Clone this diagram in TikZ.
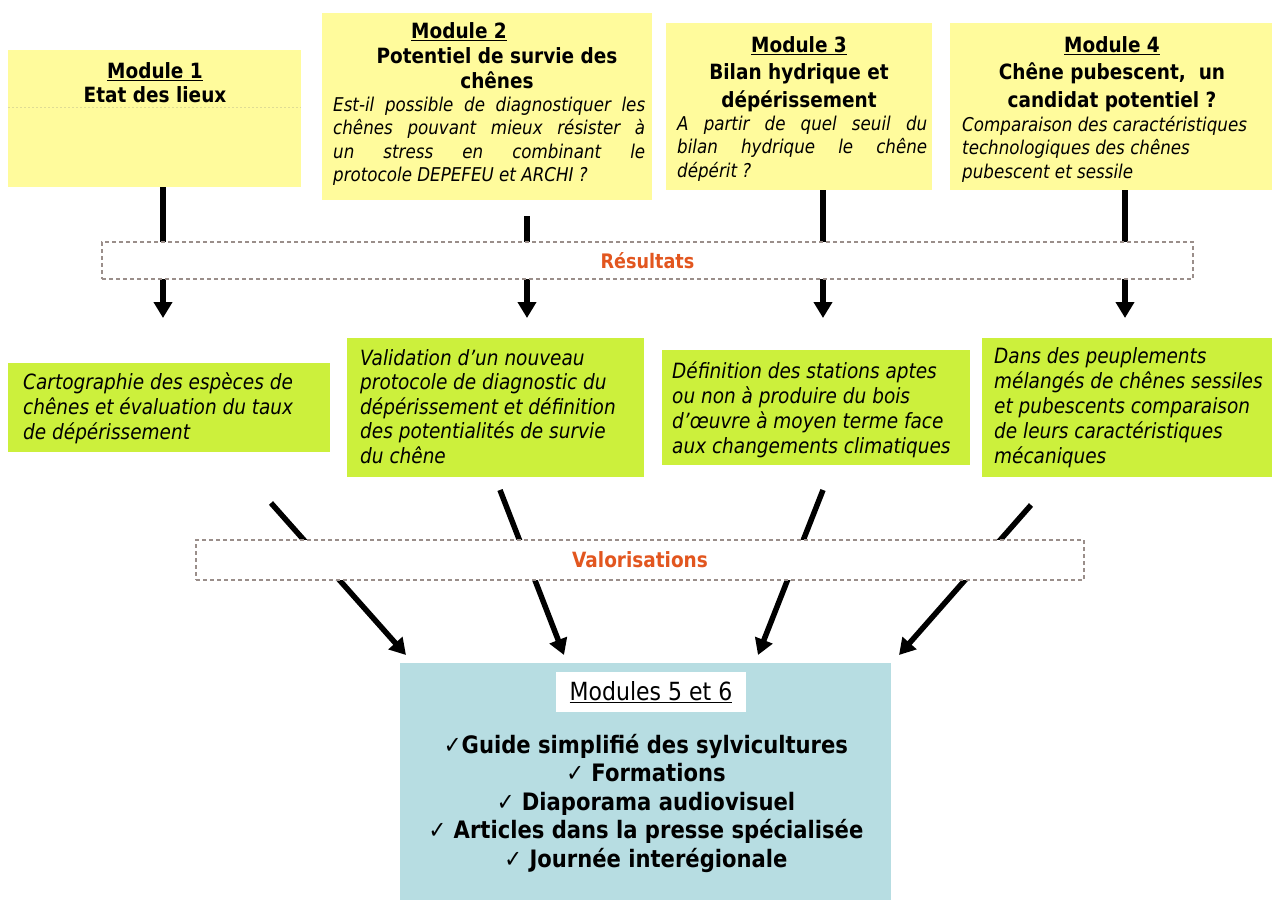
\documentclass[tikz,border=0pt]{standalone}
\usepackage{fontspec}
\setmainfont{DejaVu Sans}[FakeStretch=0.88]
\usetikzlibrary{arrows.meta,calc}
\definecolor{ycol}{HTML}{FFFB9C}
\definecolor{gcol}{HTML}{CCF03C}
\definecolor{bcol}{HTML}{B7DDE2}
\definecolor{ocol}{HTML}{E2561F}
\definecolor{dashcol}{HTML}{9A8E8A}
\begin{document}
\begin{tikzpicture}[x=1pt,y=-1pt,
  modbox/.style={fill=ycol, inner sep=0pt, outer sep=0pt, anchor=north west},
  resbox/.style={fill=gcol, inner sep=0pt, outer sep=0pt, anchor=north west},
  band/.style={draw=dashcol, fill=white, dash pattern=on 4pt off 3pt, line width=1.1pt, inner sep=0pt, outer sep=0pt, anchor=north west},
  ttl/.style={font=\fontsize{21}{24}\selectfont\bfseries, align=center, inner sep=0pt, anchor=north},
  ttlb/.style={font=\fontsize{21}{27.5}\selectfont\bfseries, align=center, inner sep=0pt, anchor=north},
  qtxt/.style={font=\fontsize{19}{23.5}\selectfont\itshape, align=left, inner sep=0pt, anchor=north west},
  rtxt/.style={font=\fontsize{21}{25}\selectfont\itshape, align=left, inner sep=0pt, anchor=north west},
  bandlbl/.style={font=\fontsize{20}{24}\selectfont\bfseries, text=ocol, inner sep=0pt},
  arr/.style={line width=5.5pt, -{Triangle[width=18pt,length=16pt]}},
  listtxt/.style={font=\fontsize{24}{28.5}\selectfont\bfseries, align=center, inner sep=0pt, anchor=north}
]
\fill[white] (0,0) rectangle (1272,900);
\useasboundingbox (0,0) rectangle (1272,900);

% module boxes
\node[modbox, minimum width=293pt, minimum height=137pt] (m1) at (8,50) {};
\node[modbox, minimum width=330pt, minimum height=187pt] (m2) at (322,13) {};
\node[modbox, minimum width=266pt, minimum height=167pt] (m3) at (666,23) {};
\node[modbox, minimum width=322pt, minimum height=167pt] (m4) at (950,23) {};
\draw[ycol!75!gray, dash pattern=on 2pt off 2pt, line width=0.6pt] (m1.west |- 0,107) -- (m1.east |- 0,107);

% module texts
\node[ttl] (t1) at (155,62) {\underline{Module 1}\\Etat des lieux};
\node[ttl, font=\fontsize{21}{25}\selectfont\bfseries] (t2) at (497,22) {\underline{Module 2}\hspace*{76pt}\\Potentiel de survie des\\chênes};
\node[qtxt] (q2) at (333,96.6) {\makebox[312pt][s]{Est-il possible de diagnostiquer les}\\
  \makebox[312pt][s]{chênes pouvant mieux résister à}\\
  \makebox[312pt][s]{un stress en combinant le}\\
  protocole DEPEFEU et ARCHI ?};
\node[ttlb] (t3) at (799,36) {\underline{Module 3}\\Bilan hydrique et\\dépérissement};
\node[qtxt] (q3) at (677,115.6) {\makebox[250pt][s]{A partir de quel seuil du}\\
  \makebox[250pt][s]{bilan hydrique le chêne}\\
  dépérit ?};
\node[ttlb] (t4) at (1112,36) {\underline{Module 4}\\Chêne pubescent,\ \ un\\candidat potentiel ?};
\node[qtxt] (q4) at (962,115.6) {Comparaison des caractéristiques\\technologiques des chênes\\pubescent et sessile};

% result boxes
\node[resbox, minimum width=322pt, minimum height=89pt] (g1) at (8,363) {};
\node[resbox, minimum width=297pt, minimum height=139pt] (g2) at (347,338) {};
\node[resbox, minimum width=308pt, minimum height=115pt] (g3) at (662,350) {};
\node[resbox, minimum width=290pt, minimum height=139pt] (g4) at (982,338) {};
\node[rtxt] (x1) at (23,372) {Cartographie des espèces de\\chênes et évaluation du taux\\de dépérissement};
\node[rtxt, font=\fontsize{21}{24.5}\selectfont\itshape] (x2) at (360,349) {Validation d’un nouveau\\protocole de diagnostic du\\dépérissement et définition\\des potentialités de survie\\du chêne};
\node[rtxt] (x3) at (672,361) {Définition des stations aptes\\ou non à produire du bois\\d’œuvre à moyen terme face\\aux changements climatiques};
\node[rtxt] (x4) at (994,347) {Dans des peuplements\\mélangés de chênes sessiles\\et pubescents comparaison\\de leurs caractéristiques\\mécaniques};

% final box
\node[fill=bcol, inner sep=0pt, outer sep=0pt, anchor=north west, minimum width=491pt, minimum height=237pt] (b) at (400,663) {};
\node[fill=white, inner sep=0pt, anchor=north west, minimum width=190pt, minimum height=40pt] (bt) at (556,672) {};
\node[font=\fontsize{25}{28}\selectfont, inner sep=0pt, anchor=base] (btl) at (651,700) {\underline{Modules 5 et 6}};
\node[listtxt] (bl) at (646,734) {{\mdseries ✓}Guide simplifié des sylvicultures\\
  {\mdseries ✓} Formations\\
  {\mdseries ✓} Diaporama audiovisuel\\
  {\mdseries ✓} Articles dans la presse spécialisée\\
  {\mdseries ✓} Journée interégionale};

% vertical arrows
\coordinate (r1) at (163,318);
\coordinate (r2) at (527,318);
\coordinate (r3) at (823,318);
\coordinate (r4) at (1125,318);
\draw[arr] (m1.south -| r1) -- (r1);
\draw[arr, shorten <=16pt] (m2.south -| r2) -- (r2);
\draw[arr] (m3.south -| r3) -- (r3);
\draw[arr] (m4.south -| r4) -- (r4);

% diagonal arrows
\coordinate (v1) at (271,503); \coordinate (w1) at (406,655);
\coordinate (v2) at (500,490); \coordinate (w2) at (564,655);
\coordinate (v3) at (823,490); \coordinate (w3) at (758,655);
\coordinate (v4) at (1031,505); \coordinate (w4) at (899,655);
\draw[arr] (v1) -- (w1);
\draw[arr] (v2) -- (w2);
\draw[arr] (v3) -- (w3);
\draw[arr] (v4) -- (w4);

% bands
\node[band, minimum width=1091pt, minimum height=37pt] (res) at (102,242) {};
\node[bandlbl] (resl) at (res.center) {Résultats};
\node[band, minimum width=888pt, minimum height=40pt] (val) at (196,540) {};
\node[bandlbl, font=\fontsize{21}{24}\selectfont\bfseries] (vall) at (val.center) {Valorisations};
\end{tikzpicture}
\end{document}
